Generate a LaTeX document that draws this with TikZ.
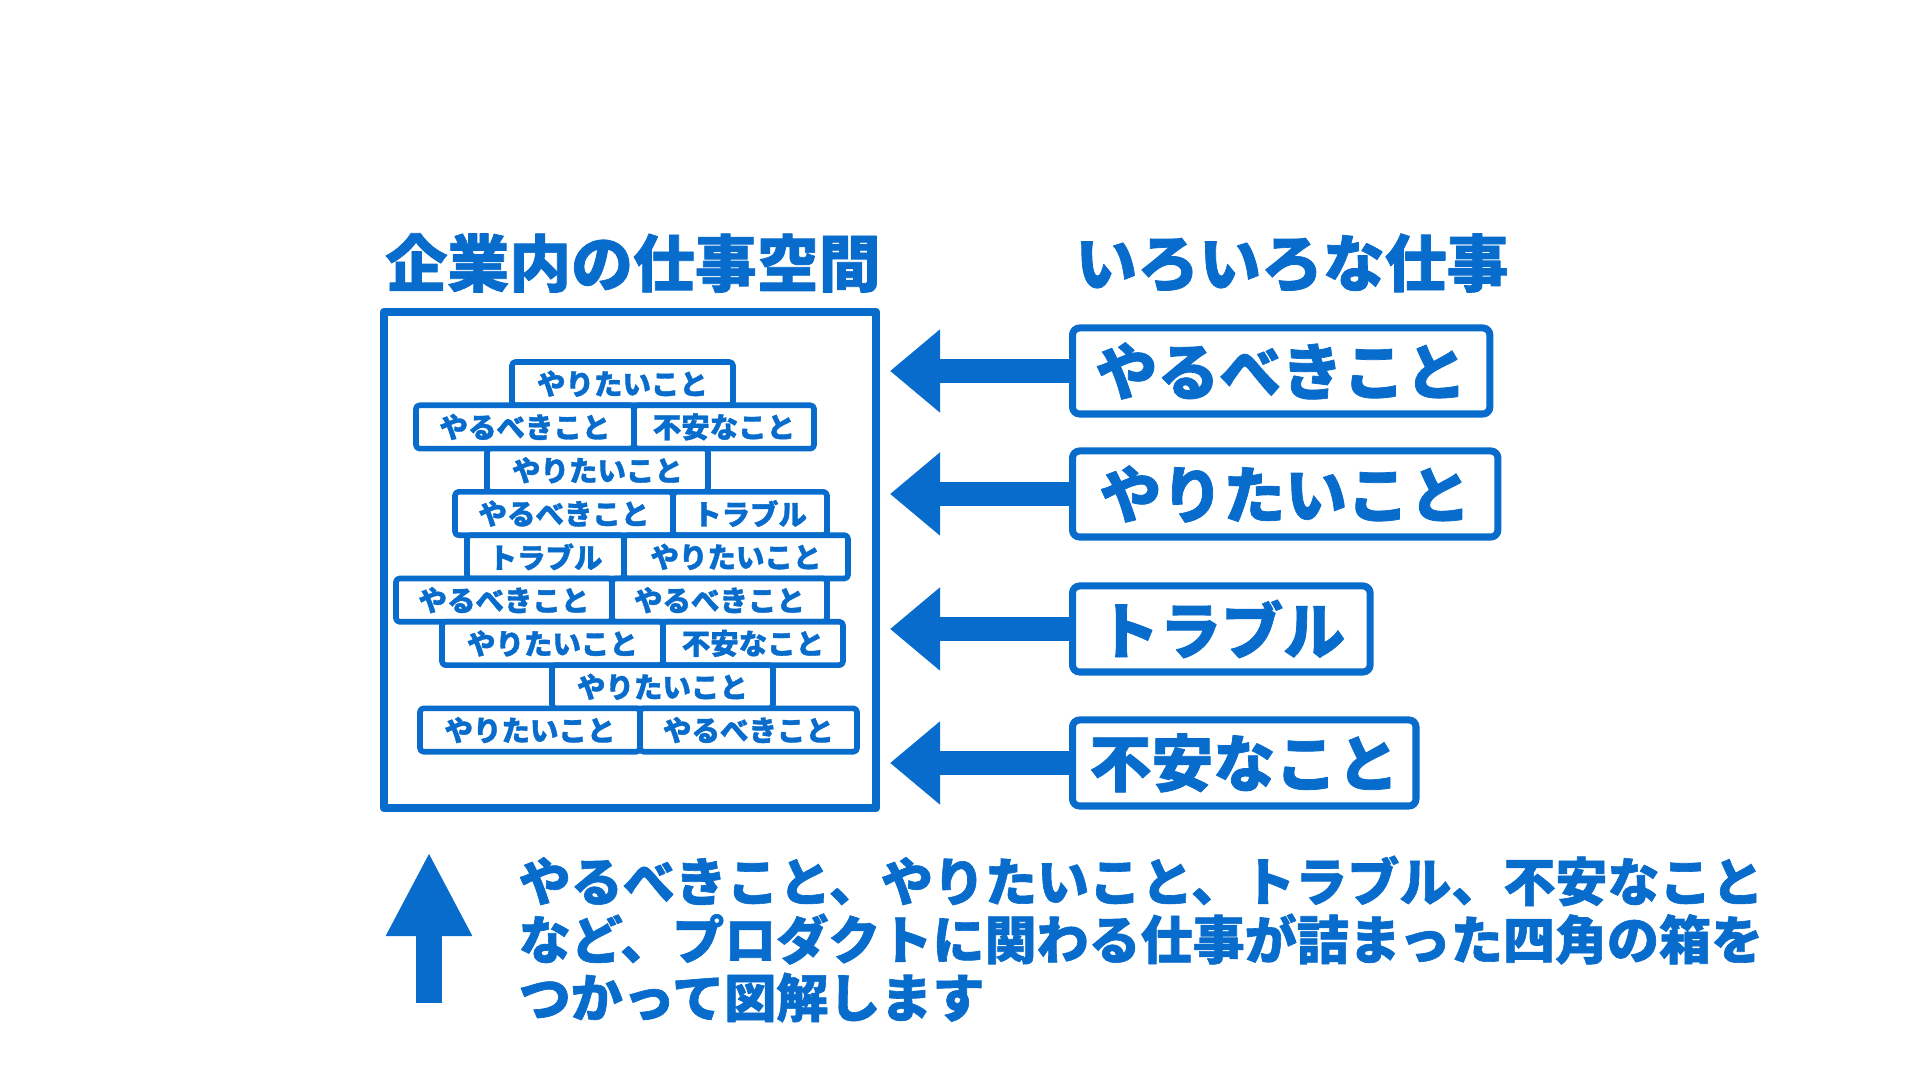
\documentclass[tikz,border=0pt]{standalone}
\usepackage{fontspec}
\setmainfont{Noto Sans CJK JP}[BoldFeatures={FakeBold=1.2}]
\usetikzlibrary{arrows.meta}

\begin{document}
\begin{tikzpicture}
		[x=0.01cm,y=-0.01cm,line join=round,
		%Styles
		heading/.style={text=workblue,font=\fontsize{17.6}{19}\selectfont\bfseries,inner sep=0pt},
		brick/.style={draw=workblue,fill=white,line width=1.6pt,rounded corners=1pt},
		brick text/.style={text=workblue,font=\fontsize{8.1}{9}\selectfont\bfseries,inner sep=0pt},
		job box/.style={draw=workblue,fill=white,line width=2pt,rounded corners=2pt,
			inner xsep=0.23cm,inner ysep=0pt,minimum height=0.86cm,
			text=workblue,font=\fontsize{17.6}{19}\selectfont\bfseries,anchor=west},
		push arrow/.style={workblue,line width=0.24cm,-{Triangle[width=0.8cm,length=0.5cm]}},
		note/.style={text=workblue,font=\fontsize{14.8}{16.5}\selectfont\bfseries,align=left,inner sep=0pt}
		]
		
		%Colors
		\definecolor{workblue}{RGB}{8,108,204}
		
		\useasboundingbox[fill=white] (0,0) rectangle (1920,1080);
		
		%The graphic
		\node[heading] (spacetitle) at (633,263) {企業内の仕事空間};
		\node[heading] (jobstitle) at (1292,263) {いろいろな仕事};
		
		\draw[workblue,line width=2.4pt] (384,312) rectangle (876,808);
		
		%bricks: row, left, middle, right
		\foreach \row/\a/\b/\c/\ta/\tb in {
			0/512/733/733/やりたいこと/,
			1/416/634/814/やるべきこと/不安なこと,
			2/487/708/708/やりたいこと/,
			3/455/673/827/やるべきこと/トラブル,
			4/467/624/848/トラブル/やりたいこと,
			5/396/612/827/やるべきこと/やるべきこと,
			6/442/663/843/やりたいこと/不安なこと,
			7/552/773/773/やりたいこと/,
			8/420/640/857/やりたいこと/やるべきこと}
		{
			\pgfmathsetmacro{\rowtop}{362+43.3*\row}
			\pgfmathsetmacro{\rowbot}{\rowtop+43.3}
			\filldraw[brick] (\a,\rowtop) rectangle (\b,\rowbot);
			\node[brick text] at ({(\a+\b)/2},{(\rowtop+\rowbot)/2}) {\ta};
			\ifnum\b<\c
				\filldraw[brick] (\b,\rowtop) rectangle (\c,\rowbot);
				\node[brick text] at ({(\b+\c)/2},{(\rowtop+\rowbot)/2}) {\tb};
			\fi
		}
		
		%jobs on the right
		\node[job box] (must) at (1069,371) {やるべきこと};
		\node[job box,inner xsep=0.27cm] (want) at (1069,494) {やりたいこと};
		\node[job box,inner xsep=0.25cm] (trouble) at (1069,629) {トラブル};
		\node[job box,inner xsep=0.17cm] (worry) at (1069,763) {不安なこと};
		
		\coordinate (tipline) at (890,0);
		\foreach \job in {must,want,trouble,worry}
			\draw[push arrow] (\job.west) -- (\job.west -| tipline);
		
		%bottom note
		\coordinate (upfoot) at (429,1003);
		\coordinate (uphead) at (429,852);
		\draw[workblue,line width=0.26cm,-{Triangle[width=0.8cm,length=0.84cm]}] (upfoot) -- (uphead);
		
		\node[note,anchor=north west] (summary) at (518,855) {やるべきこと、やりたいこと、トラブル、不安なこと\\など、プロダクトに関わる仕事が詰まった四角の箱を\\つかって図解します};
	\end{tikzpicture}
\end{document}
